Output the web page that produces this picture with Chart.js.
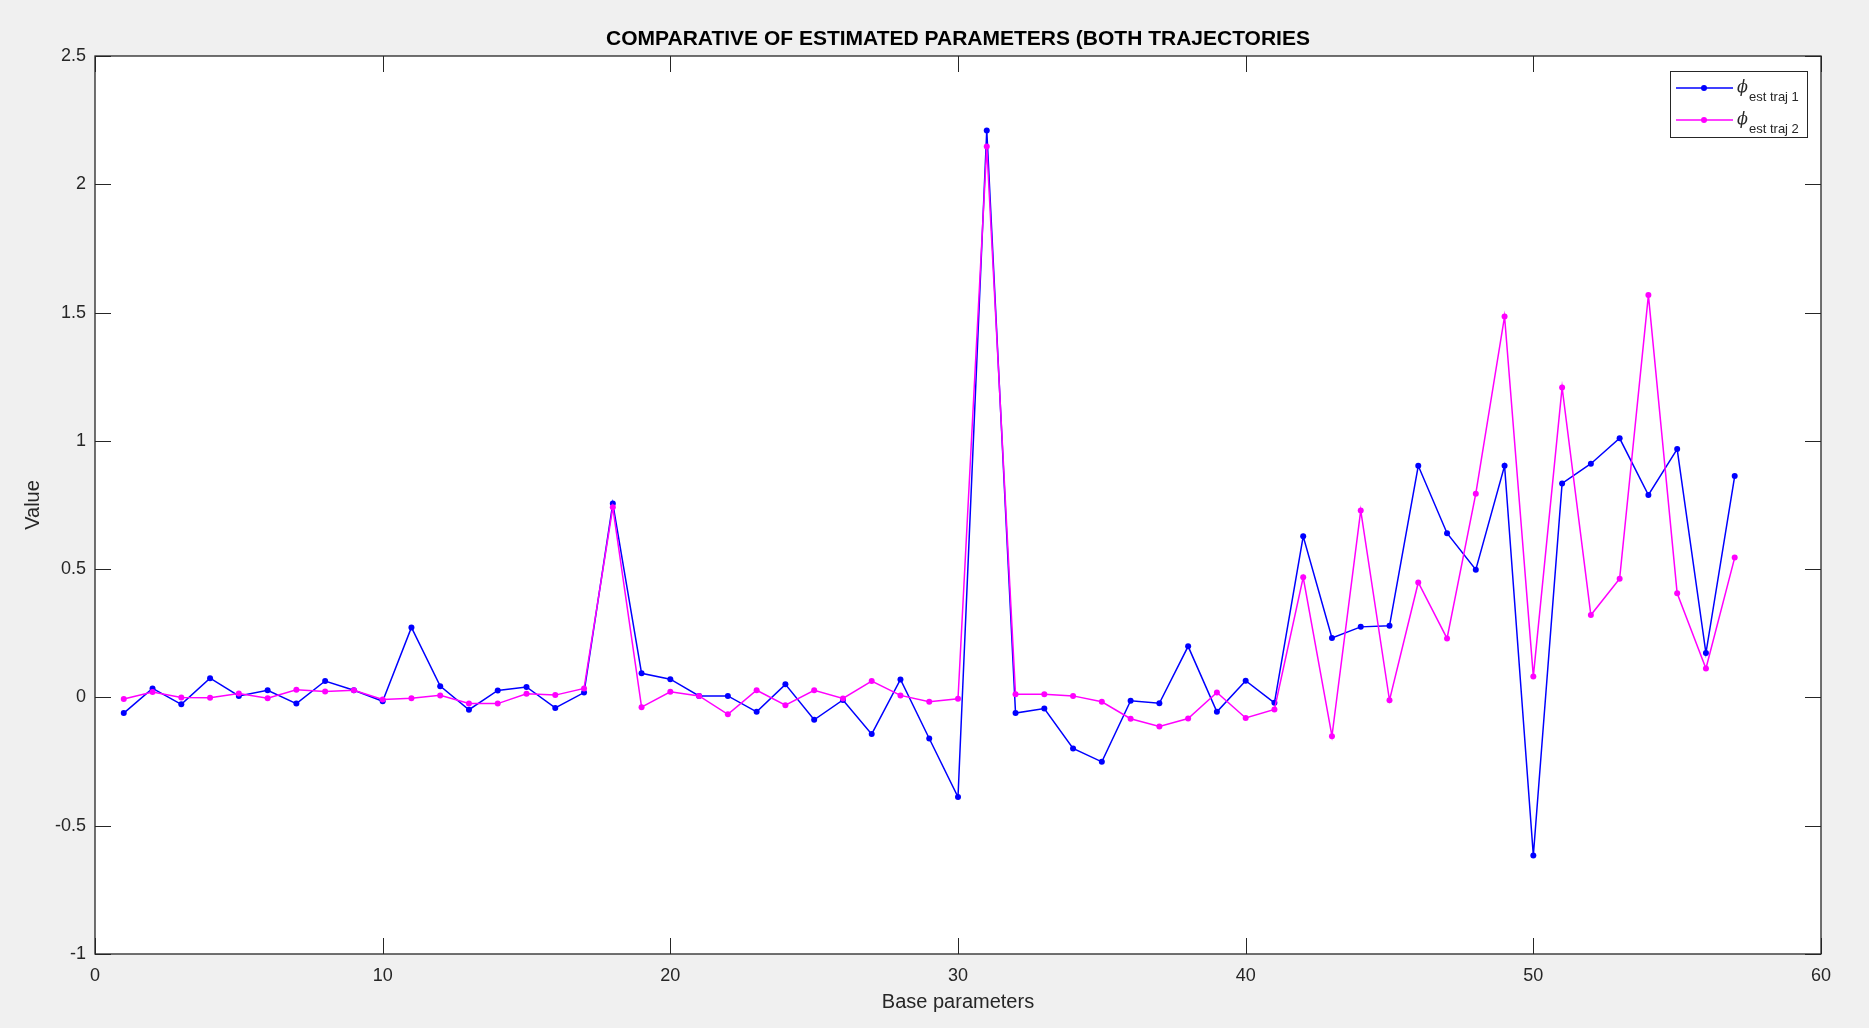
<!DOCTYPE html>
<html>
<head>
<meta charset="utf-8">
<title>Comparative of estimated parameters</title>
<script src="https://cdn.jsdelivr.net/npm/chart.js@4.4.0/dist/chart.umd.min.js"></script>
<style>
  html, body { margin: 0; padding: 0; background: #f0f0f0; }
  #paramChart { display: block; }
</style>
</head>
<body>
<canvas id="paramChart" width="1869" height="1028"></canvas>
<script>
// Base parameter index
const paramIndex = [
  1, 2, 3, 4, 5, 6, 7, 8, 9, 10, 11, 12, 13, 14, 15, 16, 17, 18, 19, 20,
  21, 22, 23, 24, 25, 26, 27, 28, 29, 30, 31, 32, 33, 34, 35, 36, 37, 38, 39, 40,
  41, 42, 43, 44, 45, 46, 47, 48, 49, 50, 51, 52, 53, 54, 55, 56, 57,
];

// Estimated parameters, trajectory 1
const phiTraj1 = [
  -0.061, 0.035, -0.027, 0.075, 0.006, 0.028, -0.024, 0.064, 0.028, -0.015,
  0.273, 0.044, -0.048, 0.027, 0.041, -0.041, 0.019, 0.756, 0.094, 0.071,
  0.006, 0.006, -0.056, 0.051, -0.087, -0.010, -0.143, 0.070, -0.160, -0.388,
  2.210, -0.061, -0.043, -0.199, -0.251, -0.013, -0.023, 0.199, -0.056, 0.065,
  -0.021, 0.628, 0.232, 0.275, 0.279, 0.903, 0.640, 0.498, 0.903, -0.616,
  0.834, 0.911, 1.010, 0.789, 0.968, 0.173, 0.863,
];

// Estimated parameters, trajectory 2
const phiTraj2 = [
  -0.006, 0.021, 0.000, -0.001, 0.015, -0.003, 0.030, 0.023, 0.028, -0.008,
  -0.003, 0.008, -0.024, -0.024, 0.014, 0.009, 0.035, 0.741, -0.038, 0.022,
  0.006, -0.066, 0.028, -0.030, 0.028, -0.004, 0.064, 0.008, -0.017, -0.005,
  2.147, 0.012, 0.012, 0.006, -0.017, -0.083, -0.113, -0.082, 0.019, -0.080,
  -0.047, 0.468, -0.151, 0.729, -0.011, 0.448, 0.230, 0.794, 1.485, 0.082,
  1.208, 0.321, 0.463, 1.568, 0.406, 0.113, 0.545,
];

// Axis ticks
const xTicks = [0, 10, 20, 30, 40, 50, 60];
const yTicks = [-1, -0.5, 0, 0.5, 1, 1.5, 2, 2.5];

const titleText = "COMPARATIVE OF ESTIMATED PARAMETERS (BOTH TRAJECTORIES";
const xLabel = "Base parameters";
const yLabel = "Value";
const legendSubs = ["est traj 1", "est traj 2"];

const BLUE = "#0000ff";
const MAGENTA = "#ff00ff";
const AXIS_COLOR = "#262626";
const FONT = "'Liberation Sans', Arial, Helvetica, sans-serif";

function toPoints(values) {
  return paramIndex.map((x, i) => ({ x: x, y: values[i] }));
}

// Figure background, axes box, inward ticks, title, labels, legend
const figurePlugin = {
  id: "figureFrame",
  beforeDraw(chart) {
    const ctx = chart.ctx;
    const a = chart.chartArea;
    ctx.save();
    ctx.fillStyle = "#f0f0f0";
    ctx.fillRect(0, 0, chart.width, chart.height);
    ctx.fillStyle = "#ffffff";
    ctx.fillRect(a.left, a.top, a.right - a.left, a.bottom - a.top);
    ctx.restore();
  },
  beforeDatasetsDraw(chart) {
    const ctx = chart.ctx;
    const a = chart.chartArea;
    const xs = chart.scales.x;
    const ys = chart.scales.y;
    const len = 16;
    ctx.save();
    ctx.strokeStyle = AXIS_COLOR;
    ctx.lineWidth = 1;
    ctx.beginPath();
    xTicks.forEach((t) => {
      const px = Math.round(xs.getPixelForValue(t)) + 0.5;
      ctx.moveTo(px, a.bottom);
      ctx.lineTo(px, a.bottom - len);
      ctx.moveTo(px, a.top);
      ctx.lineTo(px, a.top + len);
    });
    yTicks.forEach((t) => {
      const py = Math.round(ys.getPixelForValue(t)) + 0.5;
      ctx.moveTo(a.left, py);
      ctx.lineTo(a.left + len, py);
      ctx.moveTo(a.right, py);
      ctx.lineTo(a.right - len, py);
    });
    ctx.stroke();
    ctx.restore();
  },
  afterDraw(chart) {
    const ctx = chart.ctx;
    const a = chart.chartArea;
    ctx.save();

    // axes box
    ctx.strokeStyle = AXIS_COLOR;
    ctx.lineWidth = 1.3;
    ctx.strokeRect(a.left, a.top, a.right - a.left, a.bottom - a.top);

    // title
    ctx.fillStyle = "#000000";
    ctx.font = "bold 21px " + FONT;
    ctx.textAlign = "center";
    ctx.textBaseline = "middle";
    ctx.fillText(titleText, (a.left + a.right) / 2, 39);

    // axis labels
    ctx.fillStyle = AXIS_COLOR;
    ctx.font = "20px " + FONT;
    ctx.fillText(xLabel, (a.left + a.right) / 2, 1002);
    ctx.save();
    ctx.translate(33, (a.top + a.bottom) / 2);
    ctx.rotate(-Math.PI / 2);
    ctx.fillText(yLabel, 0, 0);
    ctx.restore();

    drawLegend(ctx);
    ctx.restore();
  },
};

function drawLegend(ctx) {
  const box = { x: 1670, y: 71, w: 137, h: 66 };
  const colors = [BLUE, MAGENTA];
  ctx.fillStyle = "#ffffff";
  ctx.fillRect(box.x, box.y, box.w, box.h);
  ctx.strokeStyle = AXIS_COLOR;
  ctx.lineWidth = 1;
  ctx.strokeRect(box.x + 0.5, box.y + 0.5, box.w, box.h);

  colors.forEach((c, i) => {
    const y = 88 + i * 32;
    ctx.strokeStyle = c;
    ctx.lineWidth = 1.5;
    ctx.beginPath();
    ctx.moveTo(1676, y);
    ctx.lineTo(1733, y);
    ctx.stroke();
    ctx.fillStyle = c;
    ctx.beginPath();
    ctx.arc(1704, y, 3, 0, Math.PI * 2);
    ctx.fill();

    ctx.fillStyle = AXIS_COLOR;
    ctx.textAlign = "left";
    ctx.textBaseline = "alphabetic";
    ctx.font = "italic 16px 'DejaVu Serif', serif";
    ctx.fillText("\u03D5", 1737, y + 4);
    ctx.font = "13px " + FONT;
    ctx.fillText(legendSubs[i], 1749, y + 13);
  });
}

const ctx = document.getElementById("paramChart").getContext("2d");

new Chart(ctx, {
  type: "line",
  data: {
    datasets: [
      {
        label: "est traj 1",
        data: toPoints(phiTraj1),
        borderColor: BLUE,
        backgroundColor: BLUE,
        borderWidth: 1.5,
        pointRadius: 3,
        pointBorderWidth: 0,
        pointBackgroundColor: BLUE,
        tension: 0,
        order: 2,
      },
      {
        label: "est traj 2",
        data: toPoints(phiTraj2),
        borderColor: MAGENTA,
        backgroundColor: MAGENTA,
        borderWidth: 1.5,
        pointRadius: 3,
        pointBorderWidth: 0,
        pointBackgroundColor: MAGENTA,
        tension: 0,
        order: 1,
      },
    ],
  },
  options: {
    responsive: false,
    animation: false,
    events: [],
    layout: {
      padding: { left: 0, top: 56, right: 48, bottom: 0 },
    },
    plugins: {
      legend: { display: false },
      title: { display: false },
      tooltip: { enabled: false },
    },
    scales: {
      x: {
        type: "linear",
        min: 0,
        max: 60,
        afterFit: (scale) => {
          scale.height = 74;
        },
        afterBuildTicks: (scale) => {
          scale.ticks = xTicks.map((v) => ({ value: v }));
        },
        grid: { display: false, drawTicks: false },
        border: { display: false },
        ticks: {
          padding: 11,
          color: AXIS_COLOR,
          font: { family: FONT, size: 18 },
          maxRotation: 0,
          callback: (value) => String(value),
        },
      },
      y: {
        type: "linear",
        min: -1,
        max: 2.5,
        afterFit: (scale) => {
          scale.width = 95;
        },
        afterBuildTicks: (scale) => {
          scale.ticks = yTicks.map((v) => ({ value: v }));
        },
        grid: { display: false, drawTicks: false },
        border: { display: false },
        ticks: {
          padding: 9,
          color: AXIS_COLOR,
          font: { family: FONT, size: 18 },
          callback: (value) => String(value),
        },
      },
    },
  },
  plugins: [figurePlugin],
});
</script>
</body>
</html>
